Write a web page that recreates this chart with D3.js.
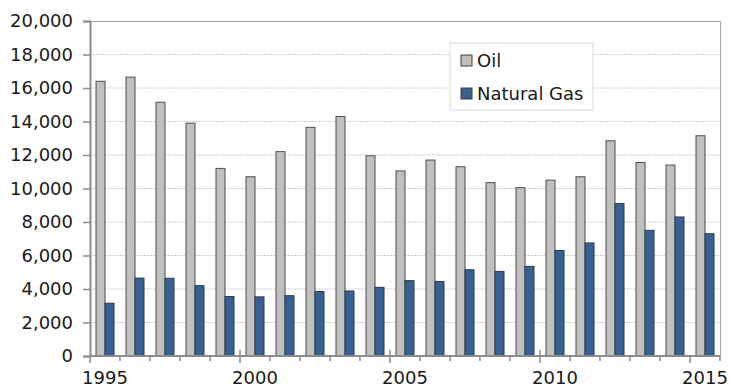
<!DOCTYPE html>
<html>
<head>
<meta charset="utf-8">
<script src="https://cdn.jsdelivr.net/npm/d3@7"></script>
<style>
  body { margin: 0; background: #fff; }
  text { font-family: "DejaVu Sans", Verdana, sans-serif; fill: #1a1a1a; }
</style>
</head>
<body>
<div id="chart"></div>
<script>

  // ---------------------------//
  //            DATA            //
  // ---------------------------//

  var years = [1995, 1996, 1997, 1998, 1999, 2000, 2001, 2002, 2003, 2004, 2005,
               2006, 2007, 2008, 2009, 2010, 2011, 2012, 2013, 2014, 2015];
  var oil = [16400, 16650, 15150, 13900, 11200, 10700, 12200, 13650, 14300, 11950, 11050,
             11700, 11300, 10350, 10050, 10500, 10700, 12850, 11550, 11400, 13150];
  var gas = [3150, 4650, 4640, 4200, 3550, 3530, 3600, 3850, 3880, 4100, 4500,
             4450, 5150, 5050, 5350, 6300, 6750, 9100, 7500, 8300, 7300];
  var seriesNames = ["Oil", "Natural Gas"];
  var yearLabels = [1995, 2000, 2005, 2010, 2015];

  // ---------------------------//
  //         DIMENSIONS         //
  // ---------------------------//

  var width = 730;
  var height = 389;
  var margin = { top: 21, right: 10, bottom: 33, left: 90 };

  var svg = d3.select("#chart")
    .append("svg")
    .attr("width", width)
    .attr("height", height);

  // ---------------------------//
  //       AXIS  AND SCALE      //
  // ---------------------------//

  var x = d3.scaleBand()
    .domain(years)
    .range([margin.left, width - margin.right])
    .padding(0);

  var inner = d3.scaleBand()
    .domain(seriesNames)
    .range([6, 24]);

  var y = d3.scaleLinear()
    .domain([0, 20000])
    .range([height - margin.bottom, margin.top]);

  var color = d3.scaleOrdinal()
    .domain(seriesNames)
    .range(["#c0c0c0", "#386192"]);

  // gridlines
  svg.append("g")
    .selectAll("line")
    .data(y.ticks(10).filter(function(d) { return d > 0 && d < 20000; }))
    .enter()
    .append("line")
    .attr("x1", margin.left)
    .attr("x2", width - margin.right)
    .attr("y1", function(d) { return y(d); })
    .attr("y2", function(d) { return y(d); })
    .attr("stroke", "#cccccc")
    .attr("stroke-width", 1)
    .attr("stroke-dasharray", "2,1");

  // top and right border
  svg.append("path")
    .attr("d", "M" + margin.left + "," + (y(20000) + 0.5) + "H" + (width - margin.right + 0.5) + "V" + y(0))
    .attr("fill", "none")
    .attr("stroke", "#a6a6a6")
    .attr("stroke-width", 1);

  // bars
  var rows = years.map(function(yr, i) {
    return { year: yr, values: [{ key: "Oil", v: oil[i] }, { key: "Natural Gas", v: gas[i] }] };
  });

  svg.append("g")
    .selectAll("g")
    .data(rows)
    .enter()
    .append("g")
    .attr("transform", function(d) { return "translate(" + x(d.year) + ",0)"; })
    .selectAll("rect")
    .data(function(d) { return d.values; })
    .enter()
    .append("rect")
    .attr("x", function(d) { return inner(d.key); })
    .attr("width", inner.bandwidth())
    .attr("y", function(d) { return y(d.v); })
    .attr("height", function(d) { return y(0) - y(d.v); })
    .attr("fill", function(d) { return color(d.key); })
    .attr("stroke", function(d) { return d.key === "Oil" ? "#4d4d4d" : "#2a3a4f"; })
    .attr("stroke-width", 1);

  // y axis
  var yAxis = svg.append("g")
    .attr("transform", "translate(" + margin.left + ",0)")
    .call(d3.axisLeft(y).ticks(10).tickSize(7).tickPadding(10).tickFormat(d3.format(",")));
  yAxis.select(".domain").attr("stroke", "#8c8c8c").attr("stroke-width", 2);
  yAxis.selectAll(".tick line").attr("stroke", "#8c8c8c").attr("stroke-width", 1.5);
  yAxis.selectAll(".tick text").style("font-size", "18px").attr("fill", "#1a1a1a");

  // x axis: labels at band centres
  var xAxis = svg.append("g")
    .attr("transform", "translate(0," + y(0) + ")")
    .call(d3.axisBottom(x).tickValues(yearLabels).tickSize(0).tickPadding(15));
  xAxis.select(".domain").remove();
  xAxis.selectAll(".tick text").style("font-size", "18px").attr("fill", "#1a1a1a");

  // x axis line and ticks at band edges
  var edges = years.map(function(d) { return x(d); }).concat([x.range()[1]]);

  svg.append("line")
    .attr("x1", margin.left - 1)
    .attr("x2", width - margin.right)
    .attr("y1", y(0))
    .attr("y2", y(0))
    .attr("stroke", "#8c8c8c")
    .attr("stroke-width", 2);

  svg.append("g")
    .selectAll("line")
    .data(edges)
    .enter()
    .append("line")
    .attr("x1", function(d) { return d; })
    .attr("x2", function(d) { return d; })
    .attr("y1", function(d, i) { return (i % 5 === 0 && i > 0 && i < 20) ? y(0) - 6 : y(0); })
    .attr("y2", function(d, i) { return (i % 5 === 0) ? y(0) + 7 : y(0) + 5; })
    .attr("stroke", "#8c8c8c")
    .attr("stroke-width", 1.5);

  // ---------------------------//
  //           LEGEND           //
  // ---------------------------//

  var legend = svg.append("g")
    .attr("transform", "translate(450,43)");

  legend.append("rect")
    .attr("width", 143)
    .attr("height", 67)
    .attr("fill", "#fff")
    .attr("stroke", "#d9d9d9");

  var item = legend.selectAll(".item")
    .data(seriesNames)
    .enter()
    .append("g")
    .attr("class", "item")
    .attr("transform", function(d, i) { return "translate(11," + (12 + i * 33) + ")"; });

  item.append("rect")
    .attr("width", 11)
    .attr("height", 11)
    .attr("fill", function(d) { return color(d); })
    .attr("stroke", "#404040");

  item.append("text")
    .attr("x", 16)
    .attr("y", 12)
    .style("font-size", "18px")
    .text(function(d) { return d; });

</script>
</body>
</html>
